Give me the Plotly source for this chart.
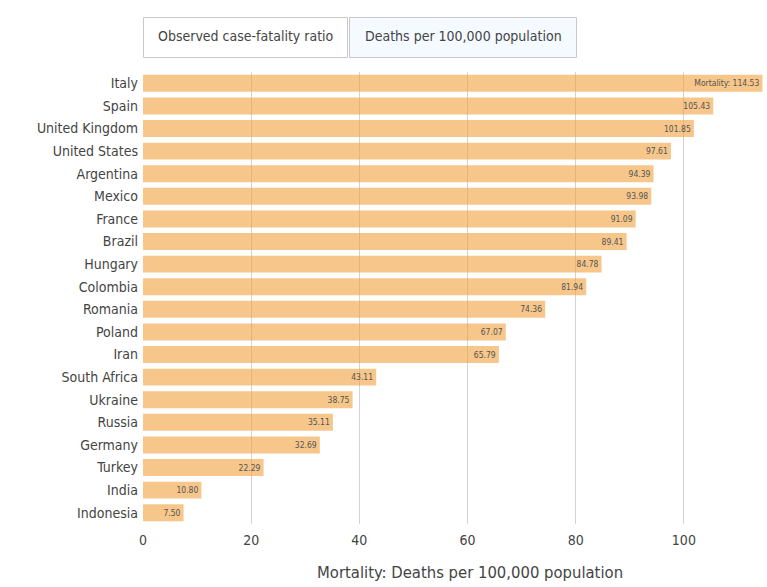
import plotly.graph_objects as go

countries = ["Italy", "Spain", "United Kingdom", "United States", "Argentina", "Mexico",
             "France", "Brazil", "Hungary", "Colombia", "Romania", "Poland", "Iran",
             "South Africa", "Ukraine", "Russia", "Germany", "Turkey", "India", "Indonesia"]
deaths_per_100k = [114.53, 105.43, 101.85, 97.61, 94.39, 93.98, 91.09, 89.41, 84.78, 81.94,
                   74.36, 67.07, 65.79, 43.11, 38.75, 35.11, 32.69, 22.29, 10.80, 7.50]
labels = ["Mortality: %.2f" % deaths_per_100k[0]] + ["%.2f" % v for v in deaths_per_100k[1:]]
menu_labels = ["Observed case-fatality ratio", "Deaths per 100,000 population"]

FONT = "Tahoma, 'DejaVu Sans Condensed', 'DejaVu Sans', sans-serif"
W, H = 767, 587
ML, MR, MT, MB = 143, 2, 72, 63
PW, PH = W - ML - MR, H - MT - MB


def px(x):
    return (x - ML) / PW


def py(y):
    return (H - MB - y) / PH


fig = go.Figure(go.Bar(
    x=deaths_per_100k, y=countries, orientation="h",
    text=labels, textposition="inside", insidetextanchor="end",
    textfont=dict(size=8.5, color="#555", family=FONT),
    marker=dict(color="rgba(240,160,60,0.6)", line=dict(width=0)),
    hoverinfo="x+y",
))

# button frames (left: plain, right: active)
btn_boxes = [(143.5, 347.5, "white"), (349.5, 576.5, "#F4FAFF")]
shapes = []
for x0, x1, fill in btn_boxes:
    shapes.append(dict(type="rect", xref="paper", yref="paper",
                       x0=px(x0), x1=px(x1), y0=py(57.5), y1=py(17.5),
                       fillcolor=fill, line=dict(color="#c8c8c8", width=1), layer="above"))

menus = []
for (x0, x1, _), lab in zip(btn_boxes, menu_labels):
    menus.append(dict(
        type="buttons", direction="right", showactive=False,
        x=px((x0 + x1) / 2), xanchor="center", y=py(37.5), yanchor="middle",
        pad=dict(r=0, t=0, l=0, b=0),
        bgcolor="rgba(0,0,0,0)", bordercolor="rgba(0,0,0,0)", borderwidth=0,
        font=dict(size=14, color="#444", family=FONT),
        buttons=[dict(label=lab, method="skip", args=[None])],
    ))

fig.update_layout(
    width=W, height=H,
    margin=dict(l=ML, r=MR, t=MT, b=MB),
    paper_bgcolor="white", plot_bgcolor="white",
    font=dict(family=FONT, size=14, color="#444"),
    bargap=0.25,
    showlegend=False,
    xaxis=dict(range=[0, 115], tickvals=[0, 20, 40, 60, 80, 100], showgrid=True,
               gridcolor="#d3d3d3", zeroline=False, showline=False,
               ticklabelstandoff=6,
               tickfont=dict(size=14, color="#444")),
    yaxis=dict(categoryorder="array", categoryarray=countries, autorange="reversed",
               showgrid=False, zeroline=False, ticksuffix=" ",
               tickfont=dict(size=14, color="#444")),
    shapes=shapes,
    updatemenus=menus,
    annotations=[dict(text="Mortality: Deaths per 100,000 population",
                      xref="paper", yref="paper", x=px(470), y=py(572),
                      xanchor="center", yanchor="middle", showarrow=False,
                      font=dict(size=16.5, color="#444", family=FONT))],
)

fig.write_html("out.html")
